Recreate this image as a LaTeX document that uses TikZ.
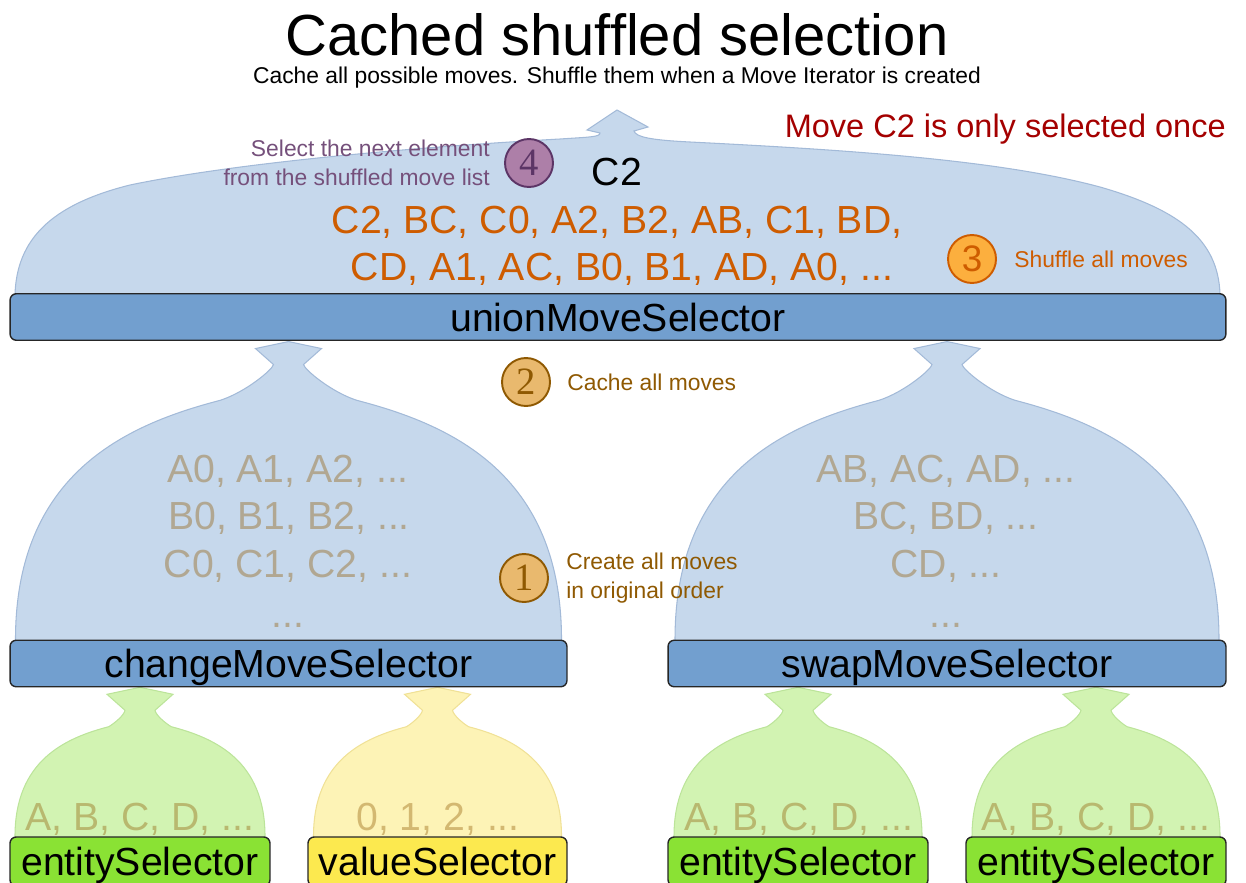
\documentclass[tikz,border=0pt]{standalone}
\usepackage{fontspec}
\setmainfont{Liberation Sans}
\newfontfamily\digitserif{Liberation Serif}
\usetikzlibrary{positioning,backgrounds}

\definecolor{movebar}{HTML}{729FCF}
\definecolor{moveblob}{HTML}{C6D8EC}
\definecolor{moveline}{HTML}{A3BAD8}
\definecolor{entitybar}{HTML}{8AE234}
\definecolor{entityblob}{HTML}{D2F3B2}
\definecolor{entityline}{HTML}{BCE49A}
\definecolor{valuebar}{HTML}{FCE94F}
\definecolor{valueblob}{HTML}{FDF3B6}
\definecolor{valueline}{HTML}{F0E196}
\definecolor{tangoorange}{HTML}{CE5C00}
\definecolor{tangobrown}{HTML}{8F5902}
\definecolor{tangopurple}{HTML}{5C3566}
\definecolor{tangored}{HTML}{A40000}
\definecolor{tanfill}{HTML}{E9B96E}
\definecolor{orangefill}{HTML}{FCAF3E}
\definecolor{purplefill}{HTML}{AD7FA8}
\definecolor{purpletext}{HTML}{75507B}

\begin{document}
\begin{tikzpicture}[
        x=0.02cm, y=-0.02cm,
        selector/.style={
            draw=black!85,
            line width=0.8pt,
            rounded corners=3.5pt,
            minimum height=0.93cm,
            inner sep=0pt,
            text height=16pt,
            text depth=0pt,
            font=\fontsize{22.3}{24}\selectfont
        },
        movesel/.style={selector, fill=movebar, minimum width=#1},
        entitysel/.style={selector, fill=entitybar, minimum width=5.2cm, minimum height=0.98cm},
        valuesel/.style={selector, fill=valuebar, minimum width=5.18cm, minimum height=0.98cm},
        listtext/.style={
            anchor=base,
            inner sep=0pt,
            font=\fontsize{22.3}{24}\selectfont
        },
        faded/.style={listtext, text=tangobrown, text opacity=0.38},
        badge/.style={
            circle,
            minimum size=0.96cm,
            inner sep=0pt,
            line width=1.1pt,
            font=\digitserif\fontsize{22}{22}\selectfont
        },
        tanbadge/.style={badge, fill=tanfill, draw=tangobrown, text=tangobrown},
        note/.style={
            inner sep=0pt,
            font=\fontsize{13}{16.4}\selectfont
        },
        pics/bell/.style n args={2}{code={
            \path[pic actions]
                (-#1,10) -- (-#1,0)
                .. controls ({-#1},{-0.6*(#2-23)}) and ({-0.6*#1},{-0.78*(#2-23)})
                .. ({-0.25*#1},{-0.87*(#2-23)})
                .. controls ({-0.12*#1-10},{-0.9*(#2-23)}) and (-16,{-(#2-23)+5})
                .. (-15,{-(#2-23)})
                -- (-33,{-(#2-7)}) -- (0,{-#2}) -- (33,{-(#2-7)})
                -- (15,{-(#2-23)})
                .. controls (16,{-(#2-23)+5}) and ({0.12*#1+10},{-0.9*(#2-23)})
                .. ({0.25*#1},{-0.87*(#2-23)})
                .. controls ({0.6*#1},{-0.78*(#2-23)}) and (#1,{-0.6*(#2-23)})
                .. (#1,0) -- (#1,10) -- cycle;
        }}
    ]

    \useasboundingbox (0,0) rectangle (1246,882);

    % Titel
    \node[anchor=base, inner sep=0pt, font=\fontsize{33}{36}\selectfont]
        (title) at (617,56) {Cached shuffled selection};
    \node[anchor=base, note]
        (subtitle) at (617,84) {Cache all possible moves. Shuffle them when a Move Iterator is created};

    % Selectors
    \node[movesel=24.32cm] (union) at (618,317) {unionMoveSelector};
    \node[movesel=11.14cm] (change) at (288.5,663.5) {changeMoveSelector};
    \node[movesel=11.16cm] (swap) at (947,663.5) {swapMoveSelector};

    \node[entitysel] (entityA) at (140,861.5) {entitySelector};
    \node[valuesel] (value) at (437.5,861.5) {valueSelector};
    \node[entitysel] (entityB) at (798,861.5) {entitySelector};
    \node[entitysel] (entityC) at (1096,861.5) {entitySelector};

    % Stroeme nach oben
    \begin{scope}[on background layer]
        \path[fill=moveblob, draw=moveline, line width=0.6pt]
            (15,304) -- (15,294)
            .. controls (17,240) and (50,205) .. (130,185)
            .. controls (250,160) and (450,145) .. (560,139)
            .. controls (590,137) and (600,137) .. (600,133)
            -- (587,130) -- (617,110) -- (648,127) -- (634,131)
            .. controls (636,137) and (650,140) .. (690,142)
            .. controls (850,150) and (1000,160) .. (1100,187)
            .. controls (1180,210) and (1218,240) .. (1220,294)
            -- (1220,304) -- cycle;

        \pic[fill=moveblob, draw=moveline, line width=0.6pt]
            at (change.north) {bell={273}{298}};
        \pic[fill=moveblob, draw=moveline, line width=0.6pt]
            at (swap.north) {bell={272}{298}};

        \pic[fill=entityblob, draw=entityline, line width=0.6pt]
            at (entityA.north) {bell={125}{149}};
        \pic[fill=valueblob, draw=valueline, line width=0.6pt]
            at (value.north) {bell={124}{149}};
        \pic[fill=entityblob, draw=entityline, line width=0.6pt]
            at (entityB.north) {bell={124}{149}};
        \pic[fill=entityblob, draw=entityline, line width=0.6pt]
            at (entityC.north) {bell={124}{149}};
    \end{scope}

    % Listen der Moves
    \node[faded] (chg1) at (288,482) {A0, A1, A2, ...};
    \node[faded] (chg2) at (289,529) {B0, B1, B2, ...};
    \node[faded] (chg3) at (288,577) {C0, C1, C2, ...};
    \node[faded] (chg4) at (288,627) {...};

    \node[faded] (swp1) at (946,482) {AB, AC, AD, ...};
    \node[faded] (swp2) at (946,529) {BC, BD, ...};
    \node[faded] (swp3) at (946,577) {CD, ...};
    \node[faded] (swp4) at (946,627) {...};

    \node[faded] (ent1) at (140,830) {A, B, C, D, ...};
    \node[faded] (val1) at (438,830) {0, 1, 2, ...};
    \node[faded] (ent2) at (799,830) {A, B, C, D, ...};
    \node[faded] (ent3) at (1096,830) {A, B, C, D, ...};

    \node[listtext, text=tangoorange] (shuf1) at (617,233) {C2, BC, C0, A2, B2, AB, C1, BD,};
    \node[listtext, text=tangoorange] (shuf2) at (622,280) {CD, A1, AC, B0, B1, AD, A0, ...};
    \node[listtext] (picked) at (617,185) {C2};

    % Schritte
    \node[tanbadge] (b1) at (524,578) {1};
    \node[note, text=tangobrown, align=left, anchor=west, right=0.34cm of b1]
        (n1) {Create all moves\\in original order};

    \node[tanbadge] (b2) at (526,382) {2};
    \node[note, text=tangobrown, anchor=west, right=0.32cm of b2]
        (n2) {Cache all moves};

    \node[badge, fill=orangefill, draw=tangoorange, text=tangoorange,
        font=\fontsize{21}{21}\selectfont] (b3) at (972,259) {3};
    \node[note, text=tangoorange, anchor=west, right=0.34cm of b3]
        (n3) {Shuffle all moves};

    \node[badge, fill=purplefill, draw=tangopurple, text=tangopurple]
        (b4) at (529,163) {4};
    \node[note, text=purpletext, align=right, left=0.28cm of b4]
        (n4) {Select the next element\\from the shuffled move list};

    \node[anchor=base east, inner sep=0pt, text=tangored, font=\fontsize{18.5}{20}\selectfont]
        (once) at (1226,137) {Move C2 is only selected once};

\end{tikzpicture}
\end{document}
